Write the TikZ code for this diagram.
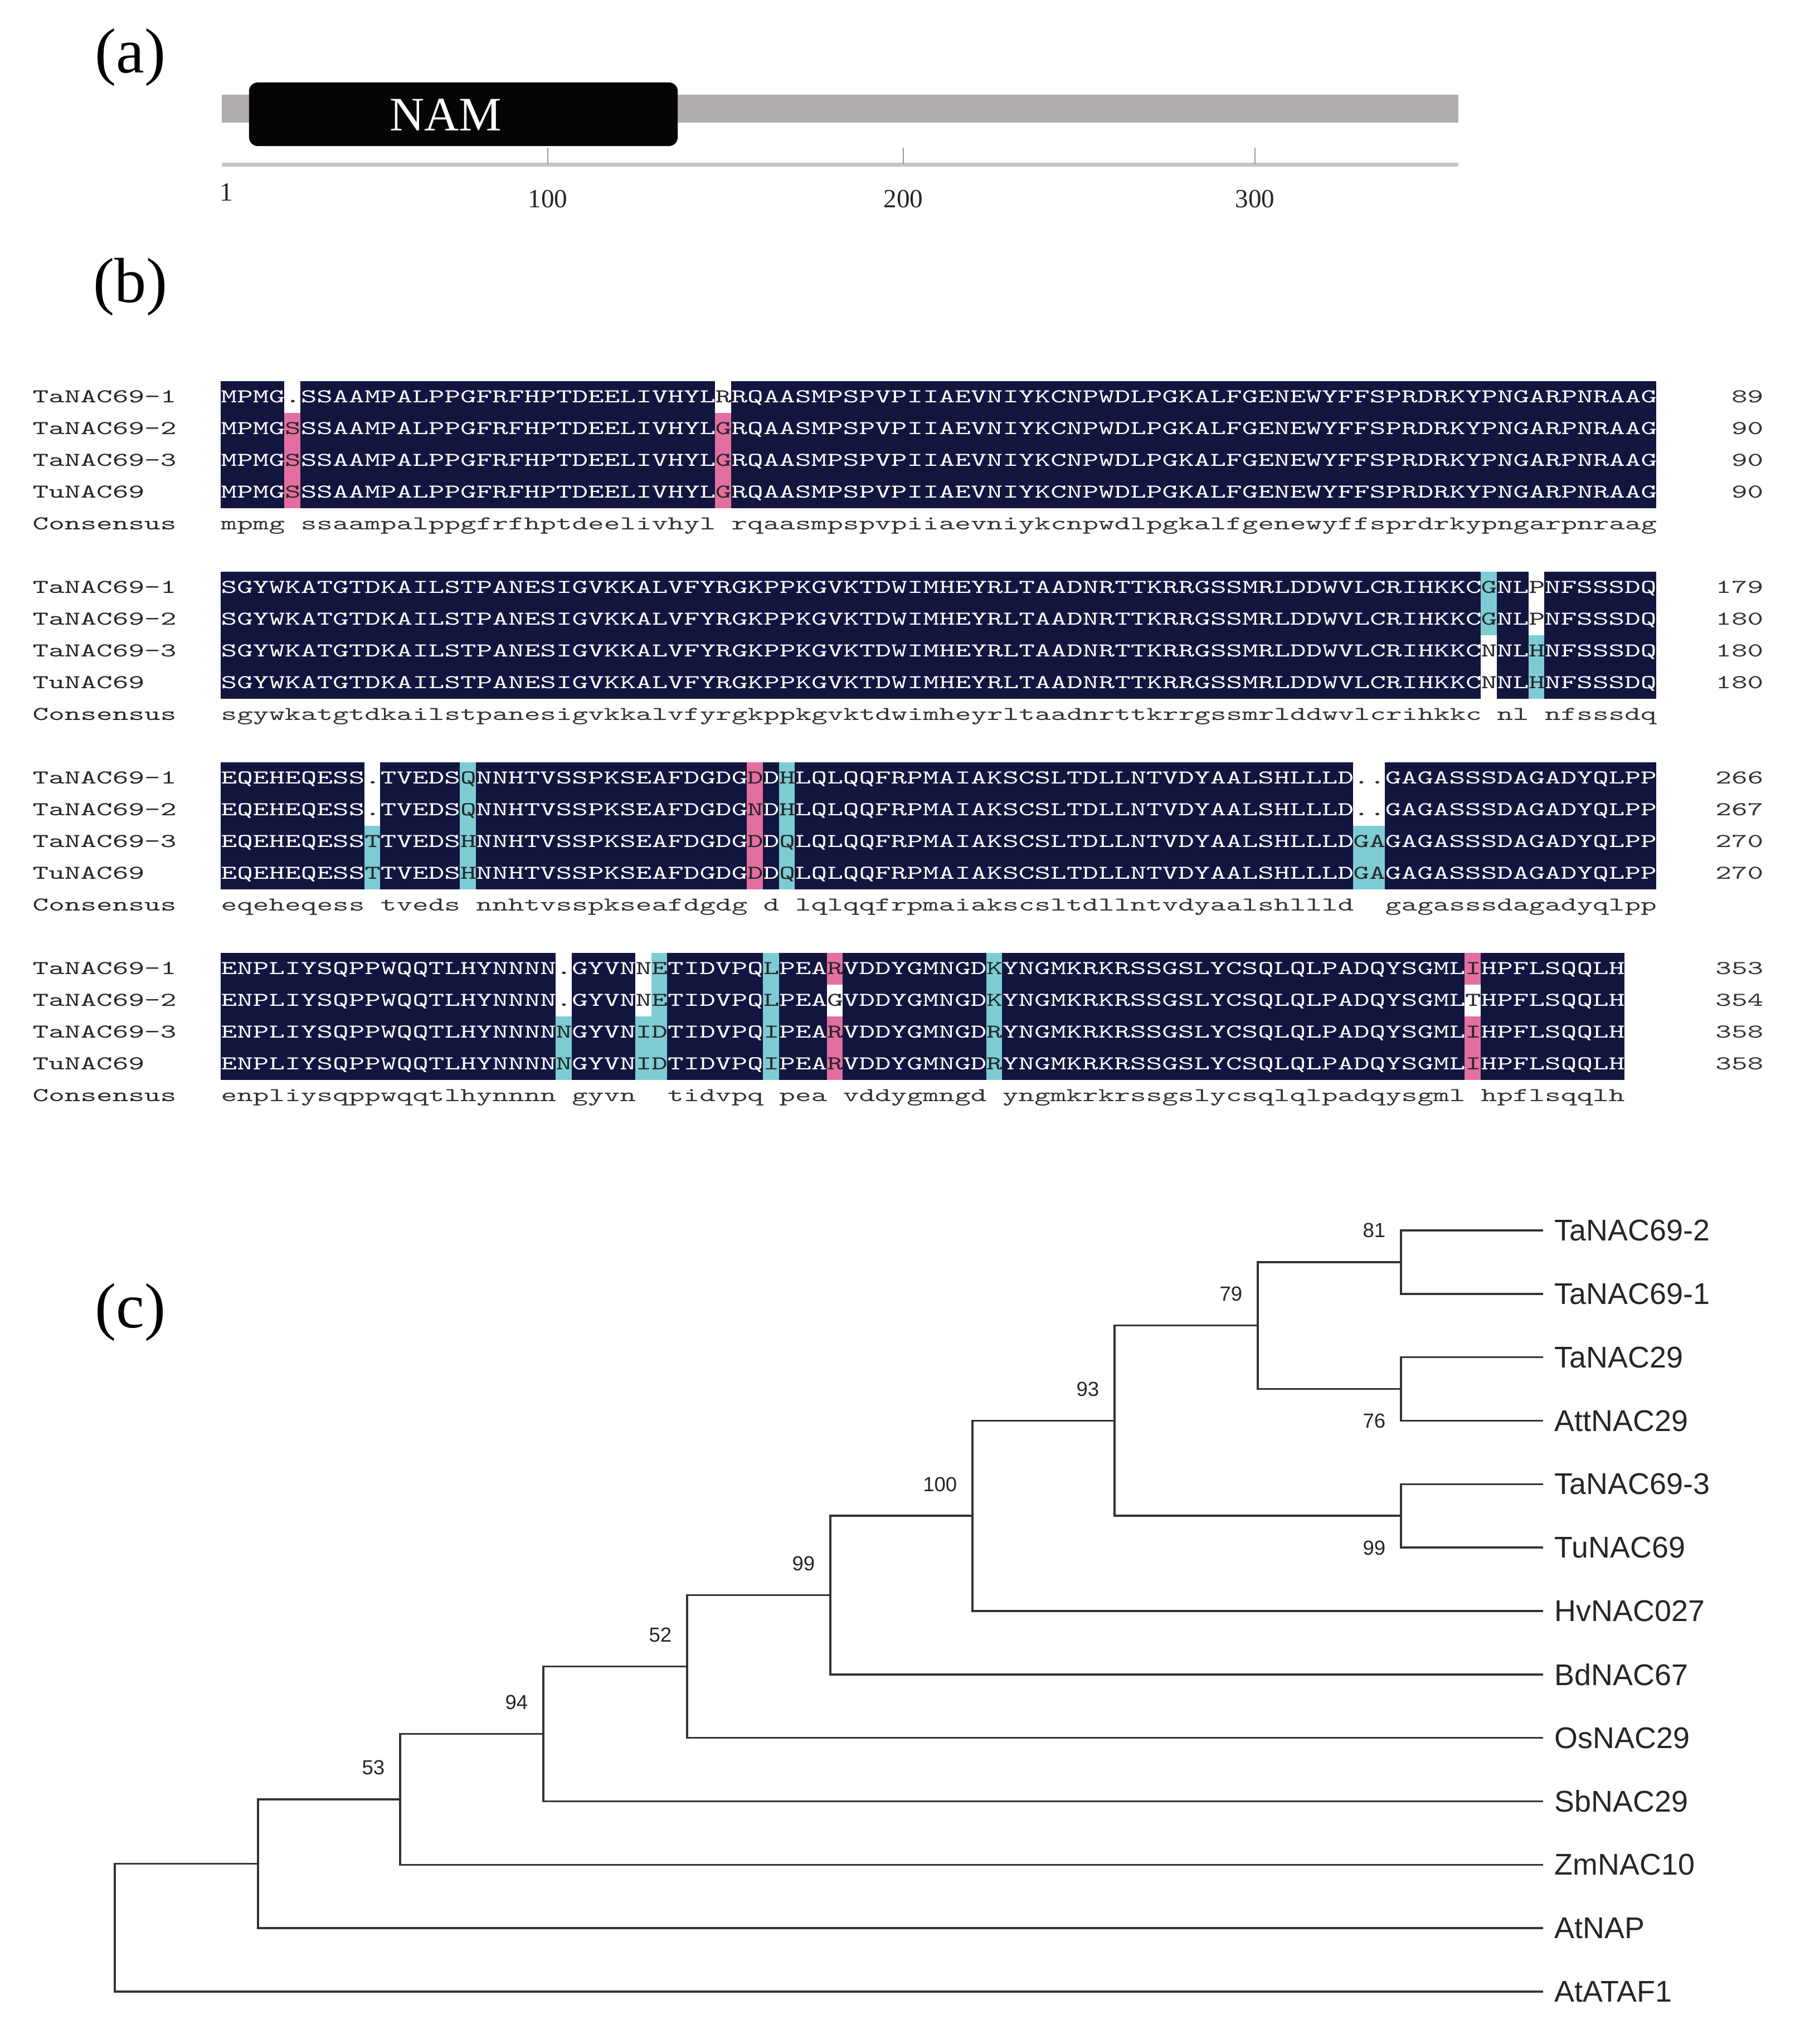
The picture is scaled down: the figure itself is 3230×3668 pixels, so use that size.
\documentclass[tikz,border=0pt]{standalone}
\usepackage{fontspec}
\usepackage{graphicx}
\usetikzlibrary{calc}
\newfontfamily\tnr{Liberation Serif}
\newfontfamily\arl{Liberation Sans}
\definecolor{alnavy}{HTML}{12163F}
\definecolor{alpink}{HTML}{E36FA0}
\definecolor{alcyan}{HTML}{7ECCD3}
\definecolor{bargray}{HTML}{B0ACAC}
\definecolor{axgray}{HTML}{C4C4C4}
\definecolor{tkgray}{HTML}{9A9A9A}
\definecolor{lngray}{HTML}{333333}
\newcommand\sq[1]{\scalebox{1.551}[1]{\fontsize{10}{12}\selectfont\ttfamily #1}}
\tikzset{
 seqrow/.style={anchor=base west, inner sep=0pt, text=white},
 seqchar/.style={anchor=base west, inner sep=0pt, text=black!85},
 consrow/.style={anchor=base west, inner sep=0pt, text=black!80},
 lab/.style={anchor=base west, inner sep=0pt, text=black!85},
 num/.style={anchor=base east, inner sep=0pt, text=black!80},
 panel/.style={font=\tnr\fontsize{32.5}{36}\selectfont, inner sep=0pt},
 dombox/.style={fill=black!98, rounded corners=4.5pt, minimum width=7.69cm, minimum height=1.14cm, inner sep=0pt},
 namlbl/.style={font=\tnr\fontsize{24.5}{28}\selectfont, text=white, inner sep=0pt},
 ticklbl/.style={font=\tnr\fontsize{13.4}{16}\selectfont, anchor=base, inner sep=0pt, text=black!85},
 axisln/.style={draw=axgray, line width=2pt},
 tickln/.style={draw=tkgray, line width=0.7pt},
 treeln/.style={draw=lngray, line width=1pt, line cap=rect},
 leaf/.style={anchor=west, inner xsep=6.3pt, inner ysep=0pt, font=\arl\fontsize{15.3}{18}\selectfont, text=black!85},
 boot/.style={inner sep=0pt, font=\arl\fontsize{10.4}{12}\selectfont, text=black!85}
}
% row label and residue count
\newcommand\rowends[4]{%
  \node[lab] (lab-#1-#2) at (58,{722.5+342*#1+57*#2}) {\sq{#3}};
  \node[num] (num-#1-#2) at (3165,{722.5+342*#1+57*#2}) {\sq{#4}};}
% a run of identical residues in all four rows, plus its consensus
\newcommand\blockseg[4]{%
  \foreach \r in {0,1,2,3}{%
    \node[seqrow] (sq-#1-\r-#2) at ({396+(#2-1)*28.62},{722.5+342*#1+57*\r}) {\sq{#3}};}
  \node[consrow] (cons-#1-#2) at ({396+(#2-1)*28.62},{950.5+342*#1}) {\sq{#4}};}
\newcommand\alcell[5]{%
  \fill[#4] ({396+(#3-1)*28.62},{683.5+342*#1+57*#2}) rectangle ++(28.62,57);
  \node[seqchar] (cell-#1-#2-#3) at ({396+(#3-1)*28.62},{722.5+342*#1+57*#2}) {\sq{#5}};}
\newcommand\conslab[1]{%
  \node[lab] (clab-#1) at (58,{950.5+342*#1}) {\sq{Consensus}};}
\newcommand\navyblock[2]{%
  \fill[alnavy] (396,{683.5+342*#1}) rectangle ++({#2*28.62},228);}

\begin{document}
\begin{tikzpicture}[x=0.01cm,y=-0.01cm]
\useasboundingbox (0,0) rectangle (3230,3668);
\fill[white] (0,0) rectangle (3230,3668);

% ---------------- (a)
\node[panel] (pa) at (234,103) {(a)};
\fill[bargray] (398,170) rectangle (2617,220);
\node[dombox] (dom) at (831.5,205) {};
\node[namlbl] (namtxt) at (800,206) {NAM};
\coordinate (axL) at (398,295);
\coordinate (axR) at (2617,295);
\draw[axisln] (axL) -- (axR);
\coordinate (tk1a) at (983,265);  \coordinate (tk1b) at (983,295);
\coordinate (tk2a) at (1621,265); \coordinate (tk2b) at (1621,295);
\coordinate (tk3a) at (2252,265); \coordinate (tk3b) at (2252,295);
\draw[tickln] (tk1a) -- (tk1b);
\draw[tickln] (tk2a) -- (tk2b);
\draw[tickln] (tk3a) -- (tk3b);
\node[ticklbl] (tl1) at (406,360) {1};
\node[ticklbl] (tl100) at (983,372) {100};
\node[ticklbl] (tl200) at (1621,372) {200};
\node[ticklbl] (tl300) at (2252,372) {300};

% ---------------- (b)
\node[panel] (pb) at (234,515) {(b)};

% block 1
\navyblock{0}{90}
\rowends{0}{0}{TaNAC69-1}{89}
\rowends{0}{1}{TaNAC69-2}{90}
\rowends{0}{2}{TaNAC69-3}{90}
\rowends{0}{3}{TuNAC69}{90}
\conslab{0}
\alcell{0}{0}{5}{white}{.}
\alcell{0}{1}{5}{alpink}{S}
\alcell{0}{2}{5}{alpink}{S}
\alcell{0}{3}{5}{alpink}{S}
\alcell{0}{0}{32}{white}{R}
\alcell{0}{1}{32}{alpink}{G}
\alcell{0}{2}{32}{alpink}{G}
\alcell{0}{3}{32}{alpink}{G}
\blockseg{0}{1}{MPMG}{mpmg}
\blockseg{0}{6}{SSAAMPALPPGFRFHPTDEELIVHYL}{ssaampalppgfrfhptdeelivhyl}
\blockseg{0}{33}{RQAASMPSPVPIIAEVNIYKCNPWDLPGKALFGENEWYFFSPRDRKYPNGARPNRAAG}{rqaasmpspvpiiaevniykcnpwdlpgkalfgenewyffsprdrkypngarpnraag}

% block 2
\navyblock{1}{90}
\rowends{1}{0}{TaNAC69-1}{179}
\rowends{1}{1}{TaNAC69-2}{180}
\rowends{1}{2}{TaNAC69-3}{180}
\rowends{1}{3}{TuNAC69}{180}
\conslab{1}
\alcell{1}{0}{80}{alcyan}{G}
\alcell{1}{1}{80}{alcyan}{G}
\alcell{1}{2}{80}{white}{N}
\alcell{1}{3}{80}{white}{N}
\alcell{1}{0}{83}{white}{P}
\alcell{1}{1}{83}{white}{P}
\alcell{1}{2}{83}{alcyan}{H}
\alcell{1}{3}{83}{alcyan}{H}
\blockseg{1}{1}{SGYWKATGTDKAILSTPANESIGVKKALVFYRGKPPKGVKTDWIMHEYRLTAADNRTTKRRGSSMRLDDWVLCRIHKKC}{sgywkatgtdkailstpanesigvkkalvfyrgkppkgvktdwimheyrltaadnrttkrrgssmrlddwvlcrihkkc}
\blockseg{1}{81}{NL}{nl}
\blockseg{1}{84}{NFSSSDQ}{nfsssdq}

% block 3
\navyblock{2}{90}
\rowends{2}{0}{TaNAC69-1}{266}
\rowends{2}{1}{TaNAC69-2}{267}
\rowends{2}{2}{TaNAC69-3}{270}
\rowends{2}{3}{TuNAC69}{270}
\conslab{2}
\alcell{2}{0}{10}{white}{.}
\alcell{2}{1}{10}{white}{.}
\alcell{2}{2}{10}{alcyan}{T}
\alcell{2}{3}{10}{alcyan}{T}
\alcell{2}{0}{16}{alcyan}{Q}
\alcell{2}{1}{16}{alcyan}{Q}
\alcell{2}{2}{16}{alcyan}{H}
\alcell{2}{3}{16}{alcyan}{H}
\alcell{2}{0}{34}{alpink}{D}
\alcell{2}{1}{34}{alpink}{N}
\alcell{2}{2}{34}{alpink}{D}
\alcell{2}{3}{34}{alpink}{D}
\alcell{2}{0}{36}{alcyan}{H}
\alcell{2}{1}{36}{alcyan}{H}
\alcell{2}{2}{36}{alcyan}{Q}
\alcell{2}{3}{36}{alcyan}{Q}
\alcell{2}{0}{72}{white}{.}
\alcell{2}{1}{72}{white}{.}
\alcell{2}{2}{72}{alcyan}{G}
\alcell{2}{3}{72}{alcyan}{G}
\alcell{2}{0}{73}{white}{.}
\alcell{2}{1}{73}{white}{.}
\alcell{2}{2}{73}{alcyan}{A}
\alcell{2}{3}{73}{alcyan}{A}
\blockseg{2}{1}{EQEHEQESS}{eqeheqess}
\blockseg{2}{11}{TVEDS}{tveds}
\blockseg{2}{17}{NNHTVSSPKSEAFDGDG}{nnhtvsspkseafdgdg}
\blockseg{2}{35}{D}{d}
\blockseg{2}{37}{LQLQQFRPMAIAKSCSLTDLLNTVDYAALSHLLLD}{lqlqqfrpmaiakscsltdllntvdyaalshllld}
\blockseg{2}{74}{GAGASSSDAGADYQLPP}{gagasssdagadyqlpp}

% block 4
\navyblock{3}{88}
\rowends{3}{0}{TaNAC69-1}{353}
\rowends{3}{1}{TaNAC69-2}{354}
\rowends{3}{2}{TaNAC69-3}{358}
\rowends{3}{3}{TuNAC69}{358}
\conslab{3}
\alcell{3}{0}{22}{white}{.}
\alcell{3}{1}{22}{white}{.}
\alcell{3}{2}{22}{alcyan}{N}
\alcell{3}{3}{22}{alcyan}{N}
\alcell{3}{0}{27}{white}{N}
\alcell{3}{1}{27}{white}{N}
\alcell{3}{2}{27}{alcyan}{I}
\alcell{3}{3}{27}{alcyan}{I}
\alcell{3}{0}{28}{alcyan}{E}
\alcell{3}{1}{28}{alcyan}{E}
\alcell{3}{2}{28}{alcyan}{D}
\alcell{3}{3}{28}{alcyan}{D}
\alcell{3}{0}{35}{alcyan}{L}
\alcell{3}{1}{35}{alcyan}{L}
\alcell{3}{2}{35}{alcyan}{I}
\alcell{3}{3}{35}{alcyan}{I}
\alcell{3}{0}{39}{alpink}{R}
\alcell{3}{1}{39}{white}{G}
\alcell{3}{2}{39}{alpink}{R}
\alcell{3}{3}{39}{alpink}{R}
\alcell{3}{0}{49}{alcyan}{K}
\alcell{3}{1}{49}{alcyan}{K}
\alcell{3}{2}{49}{alcyan}{R}
\alcell{3}{3}{49}{alcyan}{R}
\alcell{3}{0}{79}{alpink}{I}
\alcell{3}{1}{79}{white}{T}
\alcell{3}{2}{79}{alpink}{I}
\alcell{3}{3}{79}{alpink}{I}
\blockseg{3}{1}{ENPLIYSQPPWQQTLHYNNNN}{enpliysqppwqqtlhynnnn}
\blockseg{3}{23}{GYVN}{gyvn}
\blockseg{3}{29}{TIDVPQ}{tidvpq}
\blockseg{3}{36}{PEA}{pea}
\blockseg{3}{40}{VDDYGMNGD}{vddygmngd}
\blockseg{3}{50}{YNGMKRKRSSGSLYCSQLQLPADQYSGML}{yngmkrkrssgslycsqlqlpadqysgml}
\blockseg{3}{80}{HPFLSQQLH}{hpflsqqlh}

% ---------------- (c)
\node[panel] (pc) at (234,2355) {(c)};
\node[leaf] (t1) at (2767,2208.0) {TaNAC69-2};
\node[leaf] (t2) at (2767,2321.8) {TaNAC69-1};
\node[leaf] (t3) at (2767,2435.7) {TaNAC29};
\node[leaf] (t4) at (2767,2549.5) {AttNAC29};
\node[leaf] (t5) at (2767,2663.3) {TaNAC69-3};
\node[leaf] (t6) at (2767,2777.2) {TuNAC69};
\node[leaf] (t7) at (2767,2891.0) {HvNAC027};
\node[leaf] (t8) at (2767,3004.8) {BdNAC67};
\node[leaf] (t9) at (2767,3118.6) {OsNAC29};
\node[leaf] (t10) at (2767,3232.5) {SbNAC29};
\node[leaf] (t11) at (2767,3346.3) {ZmNAC10};
\node[leaf] (t12) at (2767,3460.1) {AtNAP};
\node[leaf] (t13) at (2767,3574.0) {AtATAF1};

\coordinate (nI) at (2514,2264.9);
\coordinate (nJ) at (2514,2492.6);
\coordinate (nK) at (2514,2720.2);
\coordinate (nH) at (2257,2378.7);
\coordinate (nG) at (2000,2549.5);
\coordinate (nF) at (1745,2720.2);
\coordinate (nE) at (1490,2862.5);
\coordinate (nD) at (1233,2990.6);
\coordinate (nC) at (975,3111.5);
\coordinate (nB) at (718,3228.9);
\coordinate (nA) at (463,3344.5);
\coordinate (nR) at (206,3459.3);

\draw[treeln] (nI) |- (t1.west);
\draw[treeln] (nI) |- (t2.west);
\draw[treeln] (nJ) |- (t3.west);
\draw[treeln] (nJ) |- (t4.west);
\draw[treeln] (nK) |- (t5.west);
\draw[treeln] (nK) |- (t6.west);
\draw[treeln] (nH) |- (nI);
\draw[treeln] (nH) |- (nJ);
\draw[treeln] (nG) |- (nH);
\draw[treeln] (nG) |- (nK);
\draw[treeln] (nF) |- (nG);
\draw[treeln] (nF) |- (t7.west);
\draw[treeln] (nE) |- (nF);
\draw[treeln] (nE) |- (t8.west);
\draw[treeln] (nD) |- (nE);
\draw[treeln] (nD) |- (t9.west);
\draw[treeln] (nC) |- (nD);
\draw[treeln] (nC) |- (t10.west);
\draw[treeln] (nB) |- (nC);
\draw[treeln] (nB) |- (t11.west);
\draw[treeln] (nA) |- (nB);
\draw[treeln] (nA) |- (t12.west);
\draw[treeln] (nR) |- (nA);
\draw[treeln] (nR) |- (t13.west);

\node[boot, anchor=south east] (bI) at ($(nI)+(-27,-43)$) {81};
\node[boot, anchor=south east] (bH) at ($(nH)+(-27,-43)$) {79};
\node[boot, anchor=north east] (bJ) at ($(nJ)+(-27,44)$) {76};
\node[boot, anchor=south east] (bG) at ($(nG)+(-27,-43)$) {93};
\node[boot, anchor=north east] (bK) at ($(nK)+(-27,44)$) {99};
\node[boot, anchor=south east] (bF) at ($(nF)+(-27,-43)$) {100};
\node[boot, anchor=south east] (bE) at ($(nE)+(-27,-43)$) {99};
\node[boot, anchor=south east] (bD) at ($(nD)+(-27,-43)$) {52};
\node[boot, anchor=south east] (bC) at ($(nC)+(-27,-43)$) {94};
\node[boot, anchor=south east] (bB) at ($(nB)+(-27,-43)$) {53};
\end{tikzpicture}
\end{document}
